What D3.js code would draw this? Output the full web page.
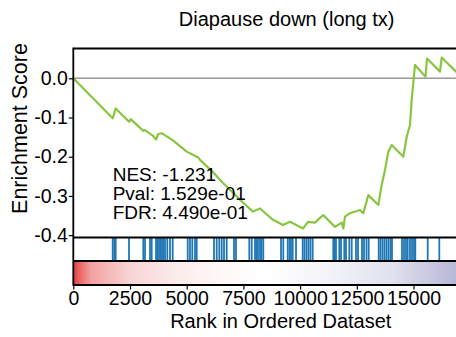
<!DOCTYPE html>
<html>
<head>
<meta charset="utf-8">
<script src="https://cdn.jsdelivr.net/npm/d3@7/dist/d3.min.js"></script>
<style>
body { margin: 0; background: #fff; }
text { font-family: "Liberation Sans", Arial, sans-serif; fill: #000; }
</style>
</head>
<body>
<svg></svg>
<script>
const title = "Diapause down (long tx)"
const xLabel = "Rank in Ordered Dataset"
const yLabel = "Enrichment Score"
const statLines = ["NES: -1.231", "Pval: 1.529e-01", "FDR: 4.490e-01"]

const xTicks = [0, 2500, 5000, 7500, 10000, 12500, 15000]
const yTicks = [0.0, -0.1, -0.2, -0.3, -0.4]

// running enrichment score
const esRank = [0, 1737, 1869, 2456, 2531, 3086, 3161, 3501, 3646, 3748, 3898, 4409, 5000, 5511, 5586,
  6100, 6600, 7100, 7500, 7923, 8232, 8805, 9246, 9555, 10128, 10349, 10657, 10878, 11023, 11539,
  11834, 11905, 11980, 12200, 12641, 12786, 13007, 13448, 13597, 13743, 13888, 14038, 14550, 14700,
  14845, 14920, 15066, 15529, 15595, 16168, 16243, 16873, 17140]
const esValue = [0, -0.102, -0.077, -0.111, -0.104, -0.134, -0.132, -0.146, -0.156, -0.142, -0.140, -0.159, -0.187, -0.202, -0.208,
  -0.236, -0.267, -0.295, -0.318, -0.340, -0.332, -0.361, -0.374, -0.366, -0.383, -0.366, -0.368, -0.356, -0.349, -0.379,
  -0.368, -0.383, -0.353, -0.344, -0.336, -0.344, -0.298, -0.323, -0.272, -0.234, -0.187, -0.170, -0.200, -0.149,
  -0.119, -0.055, 0.034, 0.004, 0.0505, 0.017, 0.053, 0.017, 0]

// gene set hit positions
const hits = [1737, 1808, 1869, 2456, 3086, 3161, 3382, 3457, 3646, 3712, 3779, 3845, 3911, 3968, 4043, 4144, 4264, 4383,
  5044, 5145, 5247, 5366, 5441, 6204, 6323, 6437, 6543, 6645, 6763, 7085, 7173, 7760, 7866, 8011, 8077, 8143, 8232,
  8298, 8377, 9158, 9259, 9453, 9532, 9598, 9673, 9819, 10114, 10194, 10282, 10370, 10458, 10555, 11463, 11525, 11582,
  11728, 11803, 11948, 12023, 12169, 12275, 12464, 12553, 12729, 12817, 12927, 13024, 13465, 13545, 13633, 13721,
  13809, 13897, 13985, 14051, 14492, 14581, 14669, 14744, 14845, 14934, 15022, 15079, 15626, 16137]

// ranked metric colour bar
const gradRank = [0, 300, 800, 2500, 4500, 7000, 8500, 11000, 14000, 16800]
const gradColor = ["#e23c3c", "#ea6a6a", "#f2a2a2", "#f9d4d4", "#fcebeb", "#fffafa", "#ffffff", "#f4f4f9", "#e2e2ef", "#b8b8d8"]

const w = 456
const h = 337
const plotLeft = 73.3
const plotTop = 48.5
const mainBottom = 237.5
const hitsBottom = 261
const gradBottom = 285

const svg = d3.select("svg").attr("width", w).attr("height", h)

const xScale = d3.scaleLinear().domain([0, 18800]).range([plotLeft, plotLeft + 18800 / 44.09])
const yScale = d3.scaleLinear().domain([0.076, -0.406]).range([plotTop, mainBottom])
const plotRight = xScale.range()[1]

// colour bar
const grad = svg.append("defs").append("linearGradient").attr("id", "rankGrad")
  .attr("gradientUnits", "userSpaceOnUse")
  .attr("x1", xScale(0)).attr("x2", xScale(gradRank[gradRank.length - 1])).attr("y1", 0).attr("y2", 0)
grad.selectAll("stop").data(gradRank).enter().append("stop")
  .attr("offset", (d) => d / gradRank[gradRank.length - 1])
  .attr("stop-color", (d, i) => gradColor[i])
svg.append("rect").attr("x", plotLeft).attr("y", hitsBottom).attr("width", plotRight - plotLeft).attr("height", gradBottom - hitsBottom)
  .attr("fill", "url(#rankGrad)")

// zero line
svg.append("line").attr("x1", plotLeft).attr("x2", plotRight).attr("y1", yScale(0)).attr("y2", yScale(0))
  .attr("stroke", "#999").attr("stroke-width", 1.6)

// hits
svg.selectAll(".hit").data(hits).enter().append("line").attr("class", "hit")
  .attr("x1", (d) => xScale(d)).attr("x2", (d) => xScale(d))
  .attr("y1", mainBottom).attr("y2", hitsBottom)
  .attr("stroke", "#1f77b4").attr("stroke-width", 1.8)

// curve
const line = d3.line().x((d, i) => xScale(esRank[i])).y((d) => yScale(d))
svg.append("path").datum(esValue).attr("d", line)
  .attr("fill", "none").attr("stroke", "#88c540").attr("stroke-width", 2.2).attr("stroke-linejoin", "round")

// frame lines
const frame = [plotTop, mainBottom, hitsBottom, gradBottom]
svg.selectAll(".hline").data(frame).enter().append("line").attr("class", "hline")
  .attr("x1", plotLeft).attr("x2", plotRight).attr("y1", (d) => d).attr("y2", (d) => d)
  .attr("stroke", "#000").attr("stroke-width", 1.8)

// y axis
const axisY = d3.axisLeft(yScale).tickValues(yTicks).tickFormat(d3.format(".1f")).tickSize(4.5).tickPadding(1)
const gy = svg.append("g").attr("transform", "translate(" + plotLeft + ",0)").call(axisY)
gy.select(".domain").remove()
gy.selectAll("line").attr("stroke", "#000").attr("stroke-width", 1.2)
gy.selectAll("text").attr("font-size", "19.5px").attr("font-family", "Liberation Sans, Arial, sans-serif")
  .text((d) => d3.format(".1f")(d).replace("\u2212", "-"))
svg.append("line").attr("x1", plotLeft).attr("x2", plotLeft).attr("y1", plotTop - 0.9).attr("y2", gradBottom + 0.9)
  .attr("stroke", "#000").attr("stroke-width", 1.8)

// x axis
const axisX = d3.axisBottom(xScale).tickValues(xTicks).tickFormat(d3.format("d")).tickSize(4.5).tickPadding(2)
const gx = svg.append("g").attr("transform", "translate(0," + gradBottom + ")").call(axisX)
gx.select(".domain").remove()
gx.selectAll("line").attr("stroke", "#000").attr("stroke-width", 1.2)
gx.selectAll("text").attr("font-size", "19.5px").attr("font-family", "Liberation Sans, Arial, sans-serif")

// labels
svg.append("text").attr("x", 286.7).attr("y", 26).attr("text-anchor", "middle").attr("font-size", "20px").text(title)
svg.append("text").attr("x", 280.8).attr("y", 328).attr("text-anchor", "middle").attr("font-size", "20px").text(xLabel)
svg.append("text").attr("transform", "translate(27,128.5) rotate(-90)").attr("text-anchor", "middle")
  .attr("font-size", "21.5px").text(yLabel)

svg.selectAll(".stat").data(statLines).enter().append("text").attr("class", "stat")
  .attr("x", 112.7).attr("y", (d, i) => 181 + i * 19).attr("font-size", "19px").text((d) => d)
</script>
</body>
</html>
